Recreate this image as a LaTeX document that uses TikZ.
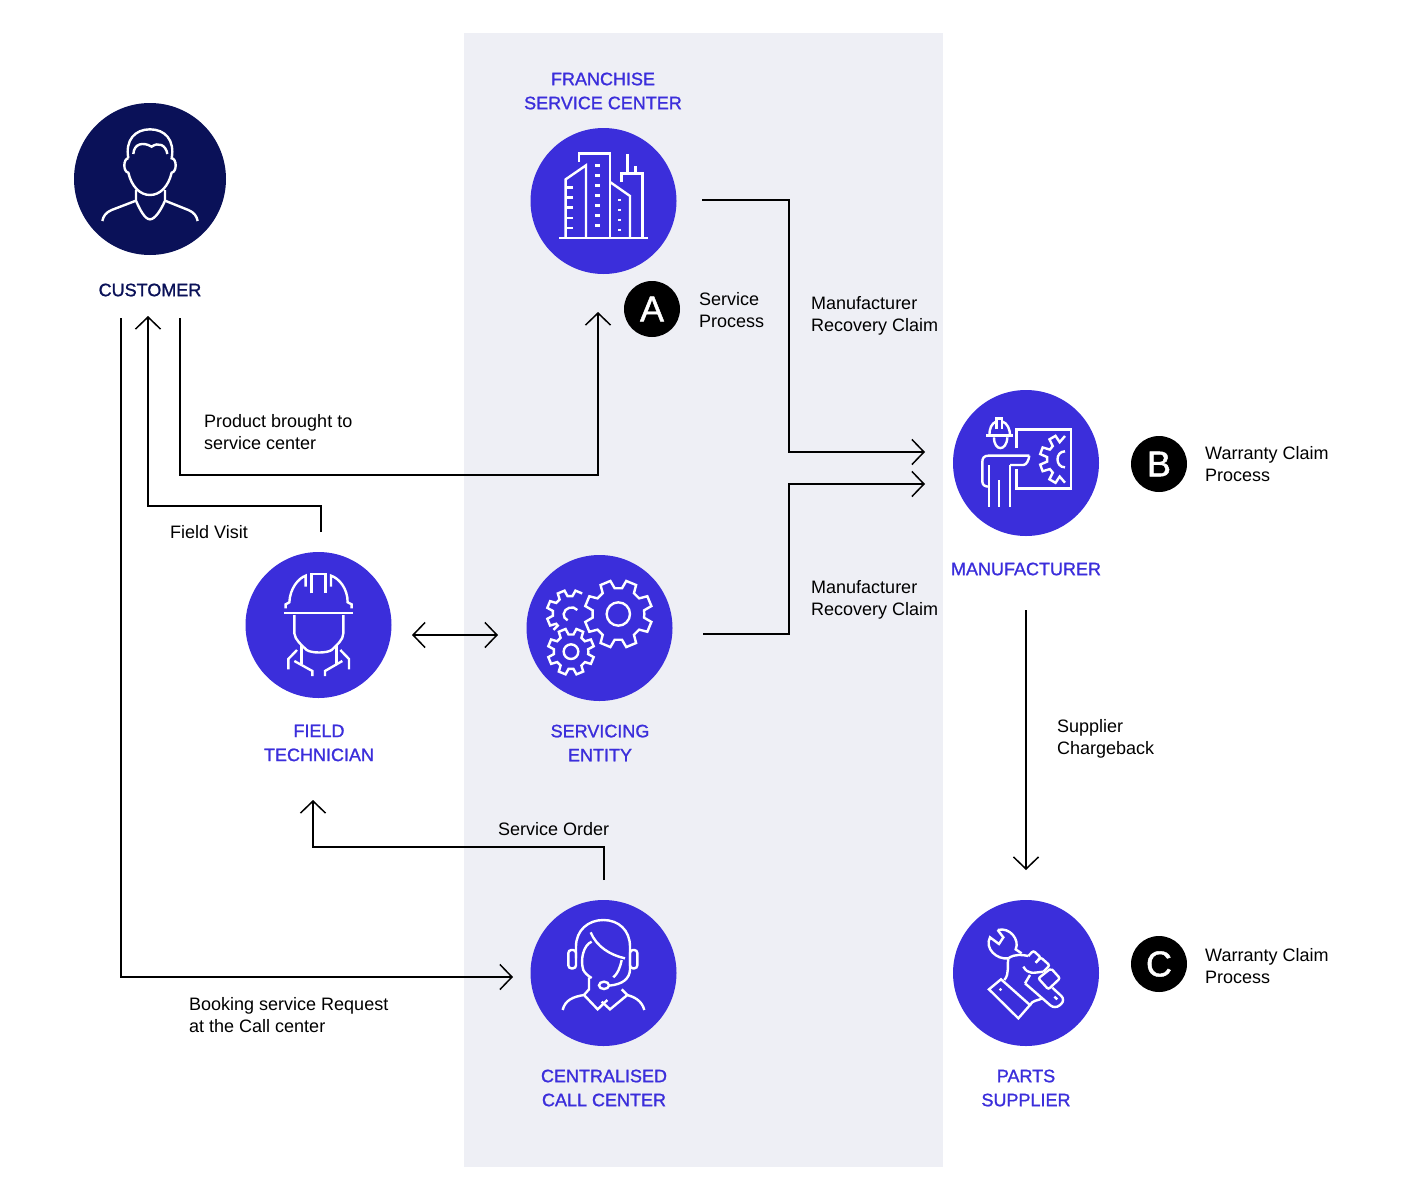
\documentclass[tikz,border=0pt]{standalone}
\usepackage{fontspec}
\setmainfont{Liberation Sans}
\newfontfamily\titlefont[FakeBold=1.2]{Liberation Sans}
\usetikzlibrary{arrows.meta}
\definecolor{hubblue}{HTML}{3B2EDB}
\definecolor{navy}{HTML}{0A1158}
\definecolor{panelgrey}{HTML}{EEEFF5}
\tikzstyle{hub} = [circle, fill=hubblue, minimum size=146pt, inner sep=0pt]
\tikzstyle{title} = [text=hubblue, align=center, font=\titlefont\fontsize{18}{24}\selectfont]
\tikzstyle{note} = [align=left, anchor=west, inner sep=0pt, font=\fontsize{18}{22}\selectfont]
\tikzstyle{badge} = [circle, fill=black, text=white, minimum size=56pt, inner sep=0pt, font=\titlefont\fontsize{36}{36}\selectfont]
\tikzstyle{flow} = [draw, line width=1.5pt, >={Straight Barb[length=12pt,width=25pt,line width=1.5pt]}]
\tikzstyle{icon} = [draw=white, line width=2.4pt, line join=miter]
\newcommand{\cogs}[4]{\foreach \a in {#1} {-- ({\a-0.32*#4}:#3) -- ({\a-0.2*#4}:#2) -- ({\a+0.2*#4}:#2) -- ({\a+0.32*#4}:#3)}}
\begin{document}
\begin{tikzpicture}[x=1pt, y=-1pt]
   \useasboundingbox (0,0) rectangle (1401,1200);
   \fill[panelgrey] (464,33) rectangle (943,1167);

   \node[hub, fill=navy, minimum size=152pt] (customer) at (150,179) {};
   \node[hub] (franchise)    at (603.5,201) {};
   \node[hub] (technician)   at (318.5,625) {};
   \node[hub] (servicing)    at (599.5,628) {};
   \node[hub] (manufacturer) at (1026,463)  {};
   \node[hub] (callcenter)   at (603.5,973) {};
   \node[hub] (supplier)     at (1026,973)  {};

   \node[title, text=navy] (customerlabel) at (150,290) {CUSTOMER};
   \node[title] (franchiselabel)    at (603,91)    {FRANCHISE\\SERVICE CENTER};
   \node[title] (technicianlabel)   at (319,743)   {FIELD\\TECHNICIAN};
   \node[title] (servicinglabel)    at (600,743)   {SERVICING\\ENTITY};
   \node[title] (manufacturerlabel) at (1026,569)  {MANUFACTURER};
   \node[title] (callcenterlabel)   at (604,1088)  {CENTRALISED\\CALL CENTER};
   \node[title] (supplierlabel)     at (1026,1088) {PARTS\\SUPPLIER};

   \node[badge] (badgea) at (652,309)  {A};
   \node[badge] (badgeb) at (1159,464) {B};
   \node[badge] (badgec) at (1159,964) {C};

   \node[note] (serviceproc)  at (699,310)  {Service\\Process};
   \node[note] (warrantyb)    at (1205,464) {Warranty Claim\\Process};
   \node[note] (warrantyc)    at (1205,966) {Warranty Claim\\Process};
   \node[note] (recoverytop)  at (811,316)  {Manufacturer\\Recovery Claim};
   \node[note] (recoverylow)  at (811,600)  {Manufacturer\\Recovery Claim};
   \node[note] (chargeback)   at (1057,738.5) {Supplier\\Chargeback};
   \node[note] (broughtto)    at (204,432)  {Product brought to\\service center};
   \node[note] (fieldvisit)   at (170,532)  {Field Visit};
   \node[note] (serviceorder) at (498,829)  {Service Order};
   \node[note] (booking)      at (189,1015) {Booking service Request\\at the Call center};

   \coordinate (custout)   at (121,318);
   \coordinate (callin)    at (513,977);
   \coordinate (techout)   at (321,532);
   \coordinate (custin)    at (148,316);
   \coordinate (custout2)  at (180,318);
   \coordinate (franin)    at (598,312);
   \coordinate (franout)   at (702,200);
   \coordinate (manuin)    at (925,452);
   \coordinate (servout)   at (703,634);
   \coordinate (manuin2)   at (925,484);
   \coordinate (techside)  at (412,635);
   \coordinate (servside)  at (498,635);
   \coordinate (callout)   at (604,880);
   \coordinate (techin)    at (313,800);
   \coordinate (manuout)   at (1026,610);
   \coordinate (suppin)    at (1026,870);

   \draw[flow, ->] (custout) |- (callin);
   \draw[flow, ->] (techout) |- (148,506) -- (custin);
   \draw[flow, ->] (custout2) |- (598,475) -- (franin);
   \draw[flow, ->] (franout) -| (789,452) -- (manuin);
   \draw[flow, ->] (servout) -| (789,484) -- (manuin2);
   \draw[flow, <->] (techside) -- (servside);
   \draw[flow, ->] (callout) |- (313,847) -- (techin);
   \draw[flow, ->] (manuout) -- (suppin);

   \begin{scope}[shift={(60,90)}, scale=1/3]
      \draw[icon] (205,205) .. controls (195,150) and (225,118) .. (270,118) .. controls (315,118) and (345,150) .. (335,205)
         .. controls (350,205) and (352,245) .. (335,248) .. controls (325,290) and (300,315) .. (270,315)
         .. controls (240,315) and (215,290) .. (205,248) .. controls (188,245) and (190,205) .. (205,205);
      \draw[icon] (220,192) .. controls (222,160) and (250,155) .. (275,170) .. controls (295,155) and (318,165) .. (322,192);
      \draw[icon] (228,300) -- (228,332) .. controls (240,360) and (255,388) .. (270,388) .. controls (285,388) and (303,360) .. (315,332) -- (315,300);
      \draw[icon] (228,332) -- (155,360) .. controls (138,367) and (130,378) .. (127,393);
      \draw[icon] (315,332) -- (385,360) .. controls (402,367) and (410,378) .. (413,393);
   \end{scope}

   \begin{scope}[shift={(520,120)}, scale=1/3]
      \draw[icon] (118,354) -- (384,354);
      \draw[icon] (137,354) -- (137,178) -- (198,136) -- (198,354);
      \foreach \y in {203,233,263,294,324} \draw[icon] (137,\y) -- (160,\y);
      \draw[icon] (177,125) -- (177,100) -- (270,100) -- (270,354);
      \foreach \y in {137,167,197,227,257,287,317} \draw[icon] (226,\y) -- (239,\y);
      \draw[icon] (270,186) -- (330,228) -- (330,354);
      \foreach \y in {240,270,300,330} \draw[icon] (294,\y) -- (302,\y);
      \draw[icon] (304,186) -- (304,160) -- (367,160) -- (367,354);
      \draw[icon] (322,160) -- (322,102);
      \draw[icon] (346,160) -- (346,138);
   \end{scope}

   \begin{scope}[shift={(940,380)}, scale=1/3]
      \draw[icon] (138,167) -- (218,167);
      \draw[icon] (148,167) .. controls (148,145) and (155,130) .. (168,125);
      \draw[icon] (188,125) .. controls (201,130) and (210,145) .. (210,167);
      \draw[icon] (170,148) -- (170,116) -- (186,116) -- (186,148);
      \draw[icon] (162,172) .. controls (162,215) and (200,215) .. (202,172);
      \draw[icon] (268,227) -- (145,227) .. controls (132,227) and (127,235) .. (127,245) -- (127,305) .. controls (127,315) and (135,320) .. (147,320);
      \draw[icon] (147,255) -- (147,382);
      \draw[icon] (177,300) -- (177,382);
      \draw[icon] (210,255) -- (210,382);
      \draw[icon] (210,255) -- (250,255) .. controls (260,255) and (266,240) .. (268,227);
      \draw[icon] (230,205) -- (230,148) -- (393,148) -- (393,326) -- (230,326) -- (230,268);
      \begin{scope}[shift={(375,238)}]
         \draw[icon] (90:70) \cogs{120,160,200,240}{76}{54}{40} -- (270:70);
         \draw[icon] (0,-24) .. controls (-30,-24) and (-30,24) .. (0,24);
      \end{scope}
   \end{scope}

   \begin{scope}[shift={(235,545)}, scale=1/3]
      \draw[icon] (148,204) -- (354,204);
      \draw[icon] (152,190) -- (152,178) -- (163,172) .. controls (165,130) and (190,100) .. (212,92) -- (212,125);
      \draw[icon] (230,145) -- (230,87) -- (272,87) -- (272,145);
      \draw[icon] (288,125) -- (288,92) .. controls (312,100) and (338,130) .. (338,172) -- (350,178) -- (350,190);
      \draw[icon] (178,210) -- (178,265) .. controls (180,285) and (200,300) .. (215,315) .. controls (230,325) and (275,325) .. (290,315) .. controls (305,300) and (325,285) .. (325,265) -- (325,210);
      \draw[icon] (200,300) -- (200,358);
      \draw[icon] (305,300) -- (305,358);
      \draw[icon] (178,348) -- (232,378) -- (232,393);
      \draw[icon] (322,348) -- (270,378) -- (270,393);
      \draw[icon] (186,315) -- (160,342) -- (160,373);
      \draw[icon] (316,315) -- (342,342) -- (342,373);
   \end{scope}

   \begin{scope}[shift={(515,545)}, scale=1/3]
      \begin{scope}[shift={(310,207)}]
         \draw[icon] (0:78) \cogs{22.5,67.5,...,337.5}{102}{78}{45} -- cycle;
         \draw[icon] (0,0) circle (35);
      \end{scope}
      \begin{scope}[shift={(168,320)}]
         \draw[icon] (0:52) \cogs{22.5,67.5,...,337.5}{70}{52}{45} -- cycle;
         \draw[icon] (0,0) circle (22);
      \end{scope}
      \begin{scope}[shift={(165,205)}]
         \draw[icon] (-225:70) -- (-225:52) \cogs{-202.5,-157.5,-112.5}{70}{52}{45} -- (-82:52) -- (-76.5:70) -- (-58.5:70);
         \draw[icon] (22,-10) .. controls (10,-25) and (-17,-17) .. (-19,2) .. controls (-20,10) and (-15,17) .. (-7,21);
      \end{scope}
   \end{scope}

   \begin{scope}[shift={(520,890)}, scale=1/3]
      \draw[icon] (168,205) -- (168,170) .. controls (168,120) and (205,90) .. (250,90) .. controls (295,90) and (330,120) .. (330,170) -- (330,240) .. controls (328,265) and (310,283) .. (267,287);
      \draw[icon, rounded corners=3pt] (168,180) -- (145,180) -- (145,235) -- (168,235) -- cycle;
      \draw[icon, rounded corners=3pt] (330,180) -- (352,180) -- (352,235) -- (330,235) -- cycle;
      \draw[icon] (252,286) ellipse (15 and 11);
      \draw[icon] (212,127) .. controls (230,170) and (270,195) .. (315,205);
      \draw[icon] (215,155) .. controls (190,165) and (180,210) .. (190,240) .. controls (195,250) and (205,258) .. (215,264);
      \draw[icon] (207,262) -- (207,298) -- (192,315) -- (233,358) -- (262,330);
      \draw[icon] (305,210) .. controls (300,235) and (292,252) .. (280,262);
      \draw[icon] (305,298) -- (322,315) -- (270,358) -- (245,335);
      \draw[icon] (128,360) .. controls (135,330) and (160,320) .. (192,315);
      \draw[icon] (373,360) .. controls (365,330) and (340,320) .. (322,315);
   \end{scope}

   \begin{scope}[shift={(975,920)}, scale=1/3]
      \draw[icon] (68,30) -- (85,52) -- (72,72) -- (45,52) .. controls (28,85) and (65,120) .. (100,115);
      \draw[icon] (68,30) .. controls (105,20) and (135,60) .. (122,88) -- (140,100);
      \draw[icon] (100,115) .. controls (120,100) and (145,105) .. (160,108);
      \draw[icon] (100,115) .. controls (95,135) and (105,160) .. (88,180);
      \draw[icon] (78,178) -- (165,255) -- (130,295) -- (42,208) -- cycle;
      \draw[icon] (74,206) -- (79,211);
      \draw[icon] (165,255) .. controls (172,240) and (190,242) .. (202,235);
      \draw[icon] (145,140) .. controls (160,165) and (175,158) .. (205,155);
      \draw[icon] (165,165) -- (150,190);
      \draw[icon, rounded corners=2pt] (160,108) -- (175,92) -- (197,112) -- (182,128);
      \draw[icon, rounded corners=2pt] (182,128) -- (197,112) -- (224,136) -- (205,155);
      \draw[icon, rounded corners=2pt] (190,175) -- (228,145) -- (255,175) -- (220,208) -- cycle;
      \draw[icon, rounded corners=6pt] (150,190) -- (240,268) -- (272,240) -- (232,203);
      \draw[icon] (238,230) -- (247,238);
   \end{scope}
\end{tikzpicture}
\end{document}
